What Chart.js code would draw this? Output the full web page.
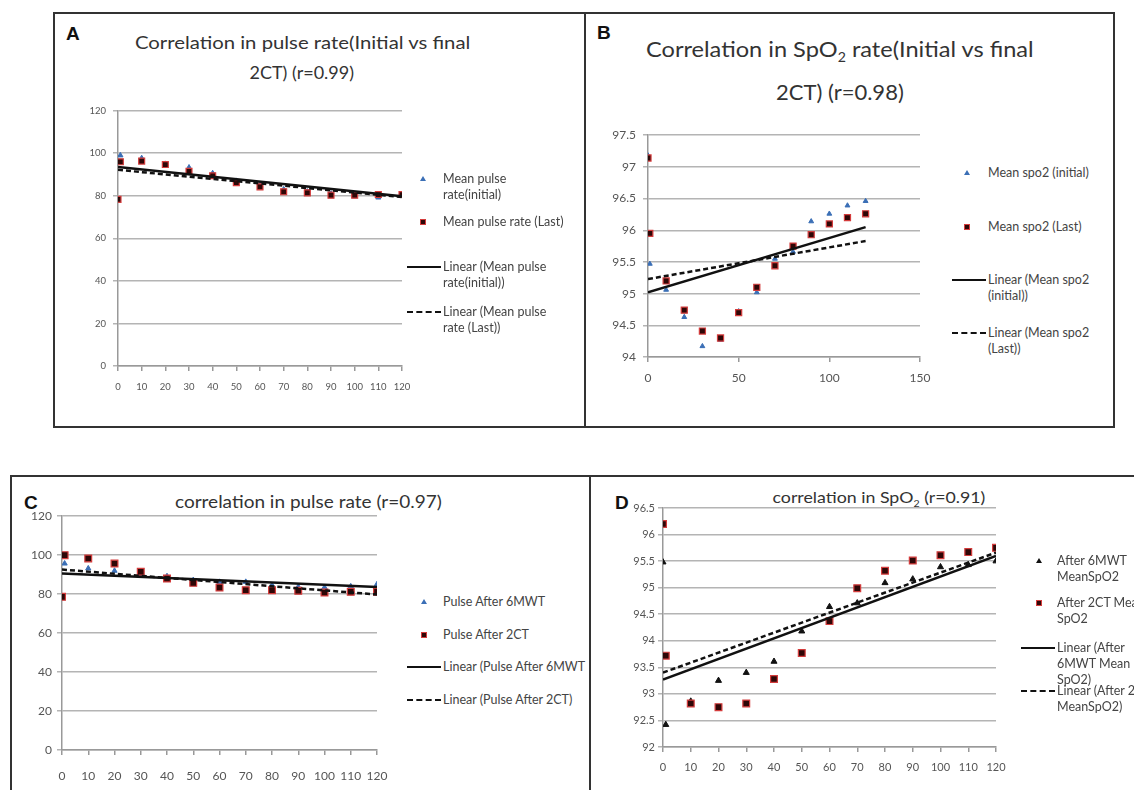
<!DOCTYPE html>
<html>
<head>
<meta charset="utf-8">
<script src="https://cdn.jsdelivr.net/npm/chart.js@4.4.0/dist/chart.umd.min.js"></script>
<style>
body { margin: 0; width: 1134px; height: 790px; background: #fff; position: relative; overflow: hidden; font-family: Lato, "Open Sans", sans-serif; }
.line { position: absolute; background: #333; }
.letter { position: absolute; font: bold 19px "Liberation Sans", Arial, sans-serif; color: #111; }
.title { position: absolute; color: #333; white-space: nowrap; text-align: center; transform-origin: center top; }
.leg { position: absolute; font-size: 12.5px; color: #444; line-height: 16px; white-space: nowrap; }
.mk { position: absolute; }
canvas { position: absolute; }
</style>
</head>
<body>
<script>
// x positions (minutes) shared by all four panels
const minutes = [0, 1, 10, 20, 30, 40, 50, 60, 70, 80, 90, 100, 110, 120];
const trendX = [0, 120];

// A - pulse rate, initial vs final 2CT
const pulseInitialA = [77.8, 99, 97.7, 95, 93.3, 90.6, 87, 85, 83, 82, 81, 80.6, 79.2, 80.2];
const pulseLastA    = [78.3, 96, 96.3, 94.7, 91.5, 89.4, 86.2, 84.2, 81.9, 81.4, 80.3, 80.3, 80.6, 80.6];
const trendInitialA = [93.5, 79.8];
const trendLastA    = [92.2, 79.4];

// B - SpO2, initial vs final 2CT
const spo2InitialB = [97.18, 95.47, 95.06, 94.63, 94.17, 94.27, 94.72, 95.02, 95.55, 95.66, 96.14, 96.26, 96.39, 96.46];
const spo2LastB    = [97.14, 95.95, 95.2, 94.74, 94.41, 94.3, 94.7, 95.1, 95.44, 95.75, 95.93, 96.1, 96.2, 96.26];
const trendInitialB = [95.02, 96.05];
const trendLastB    = [95.23, 95.83];

// C - pulse after 6MWT vs after 2CT
const pulse6mwtC = [79, 95.7, 93.2, 92, 90.3, 89.2, 87.2, 86.3, 86.3, 84.6, 83.8, 83.5, 84, 85.1];
const pulse2ctC  = [78.6, 100, 98.3, 95.7, 91.5, 88, 85.8, 83.4, 82, 82, 81.7, 80.8, 81.2, 81.2];
const trend6mwtC = [90.6, 83.6];
const trend2ctC  = [92.6, 79.8];

// D - SpO2 after 6MWT vs after 2CT
const spo26mwtD = [95.48, 92.42, 92.86, 93.25, 93.4, 93.61, 94.18, 94.64, 94.71, 95.09, 95.16, 95.39, 95.43, 95.5];
const spo22ctD  = [96.2, 93.72, 92.82, 92.75, 92.82, 93.28, 93.77, 94.37, 94.99, 95.32, 95.51, 95.61, 95.67, 95.75];
const trend6mwtD = [93.27, 95.6];
const trend2ctD  = [93.4, 95.66];

function pts(xs, ys) {
    return xs.map((x, i) => ({ x: x, y: ys[i] }));
}

function div(cls, css, html) {
    const el = document.createElement('div');
    el.className = cls;
    Object.assign(el.style, css);
    if (html !== undefined) el.innerHTML = html;
    document.body.appendChild(el);
    return el;
}

function buildDatasets(triVals, sqVals, solid, dashed, triColor, triR, sqR) {
    return [
        { data: pts(trendX, solid), showLine: true, borderColor: '#111', borderWidth: 2.5, pointRadius: 0 },
        { data: pts(trendX, dashed), showLine: true, borderColor: '#111', borderWidth: 2.5, borderDash: [5, 3], pointRadius: 0 },
        { data: pts(minutes, sqVals), pointStyle: 'rect', pointRadius: sqR, backgroundColor: '#2e0707', borderColor: '#d43c3c', borderWidth: 1.2 },
        { data: pts(minutes, triVals), pointStyle: 'triangle', pointRadius: triR, backgroundColor: triColor, borderColor: triColor, borderWidth: 1 }
    ];
}

// draws one panel's plot so that its chart area lands on l/t/r/b
function makePanel(p) {
    const padT = 12, padR = 26;
    const W = p.yW + (p.r - p.l) + padR;
    const H = padT + (p.b - p.t) + p.xH;
    const canvas = document.createElement('canvas');
    canvas.width = W;
    canvas.height = H;
    canvas.style.left = (p.l - p.yW) + 'px';
    canvas.style.top = (p.t - padT) + 'px';
    canvas.style.width = W + 'px';
    canvas.style.height = H + 'px';
    document.body.appendChild(canvas);

    const font = { family: 'Lato, sans-serif', size: p.fontSize };
    new Chart(canvas, {
        type: 'scatter',
        data: { datasets: p.datasets },
        options: {
            responsive: false,
            animation: false,
            devicePixelRatio: 1,
            layout: { padding: { left: 0, top: padT, right: padR, bottom: 0 } },
            plugins: { legend: { display: false }, tooltip: { enabled: false } },
            scales: {
                x: {
                    type: 'linear', min: p.xMin, max: p.xMax,
                    ticks: { stepSize: p.xStep, font: font, color: '#555', padding: p.xPad, maxRotation: 0, autoSkip: false },
                    grid: { drawOnChartArea: false, tickLength: 5, color: '#999', lineWidth: 1.5 },
                    border: { color: '#999', width: 1.5 },
                    afterFit: s => { s.height = p.xH; }
                },
                y: {
                    min: p.yMin, max: p.yMax,
                    ticks: { stepSize: p.yStep, font: font, color: '#555', padding: p.yPad,
                             callback: v => String(+v.toFixed(2)) },
                    grid: { color: '#b4b4b4', lineWidth: 1.5, tickLength: 5 },
                    border: { color: '#999', width: 1.5 },
                    afterFit: s => { s.width = p.yW; }
                }
            }
        }
    });
}

function addTitle(lines, cx, tops, size, width) {
    lines.forEach((txt, i) => {
        const el = div('title', { top: tops[i] + 'px', fontSize: size + 'px', lineHeight: size + 'px' }, txt);
        const w = el.offsetWidth;
        el.style.left = (cx - w / 2) + 'px';
        if (width[i]) el.style.transform = 'scaleX(' + (width[i] / w) + ')';
    });
}

function addLegend(items, mx, tx) {
    items.forEach(it => {
        if (it.kind === 'tri') {
            div('mk', { left: (mx - 3) + 'px', top: (it.y - 3) + 'px', width: 0, height: 0,
                borderLeft: '3px solid transparent', borderRight: '3px solid transparent',
                borderBottom: '5px solid ' + it.color });
        } else if (it.kind === 'sq') {
            div('mk', { left: (mx - 3) + 'px', top: (it.y - 3) + 'px', width: '4px', height: '4px',
                background: '#2e0707', border: '1px solid #d43c3c' });
        } else {
            div('mk', { left: (tx - 36) + 'px', top: (it.y - 1) + 'px', width: '34px', height: 0,
                borderTop: '2.5px ' + (it.kind === 'dash' ? 'dashed' : 'solid') + ' #111' });
        }
        div('leg', { left: tx + 'px', top: (it.y - 8) + 'px' }, it.lines.join('<br>'));
    });
}

// panel frames
div('line', { left: '53px', top: '12px', width: '1062px', height: '2px' });
div('line', { left: '53px', top: '426px', width: '1062px', height: '2px' });
div('line', { left: '53px', top: '12px', width: '2px', height: '416px' });
div('line', { left: '1113px', top: '12px', width: '2px', height: '416px' });
div('line', { left: '584px', top: '12px', width: '2px', height: '416px' });
div('line', { left: '10px', top: '475px', width: '1124px', height: '2px' });
div('line', { left: '10px', top: '475px', width: '2px', height: '315px' });
div('line', { left: '589px', top: '475px', width: '2px', height: '315px' });

div('letter', { left: '66px', top: '23px' }, 'A');
div('letter', { left: '597px', top: '22px' }, 'B');
div('letter', { left: '24px', top: '492px' }, 'C');
div('letter', { left: '615px', top: '492px' }, 'D');

addTitle(['Correlation in pulse rate(Initial vs final', '2CT) (r=0.99)'], 302, [33, 63], 18, [335, 0]);
addTitle(['Correlation in SpO<sub style="font-size:60%">2</sub> rate(Initial vs final', '2CT) (r=0.98)'], 840, [38, 81], 22, [388, 0]);
addTitle(['correlation in pulse rate (r=0.97)'], 308, [493], 17, [267]);
addTitle(['correlation in SpO<sub style="font-size:60%">2</sub> (r=0.91)'], 879, [490], 15, [213]);

makePanel({ l: 118, t: 110, r: 402, b: 366, yW: 40, xH: 30, xMin: 0, xMax: 120, xStep: 10, yMin: 0, yMax: 120, yStep: 20,
    fontSize: 9.5, xPad: 10, yPad: 7,
    datasets: buildDatasets(pulseInitialA, pulseLastA, trendInitialA, trendLastA, '#3b6fb6', 3, 4.2) });
makePanel({ l: 648, t: 133, r: 920, b: 357, yW: 50, xH: 30, xMin: 0, xMax: 150, xStep: 50, yMin: 94, yMax: 97.5, yStep: 0.5,
    fontSize: 12, xPad: 9, yPad: 7,
    datasets: buildDatasets(spo2InitialB, spo2LastB, trendInitialB, trendLastB, '#3b6fb6', 2.8, 4.3) });
makePanel({ l: 62, t: 516, r: 377, b: 750, yW: 45, xH: 38, xMin: 0, xMax: 120, xStep: 10, yMin: 0, yMax: 120, yStep: 20,
    fontSize: 12, xPad: 14, yPad: 5,
    datasets: buildDatasets(pulse6mwtC, pulse2ctC, trend6mwtC, trend2ctC, '#3b6fb6', 3, 4.8) });
makePanel({ l: 663, t: 508, r: 996, b: 747, yW: 45, xH: 32, xMin: 0, xMax: 120, xStep: 10, yMin: 92, yMax: 96.5, yStep: 0.5,
    fontSize: 11, xPad: 9, yPad: 3,
    datasets: buildDatasets(spo26mwtD, spo22ctD, trend6mwtD, trend2ctD, '#111', 3.5, 4.8) });

addLegend([
    { kind: 'tri', color: '#3b6fb6', y: 179, lines: ['Mean pulse', 'rate(initial)'] },
    { kind: 'sq', y: 222, lines: ['Mean pulse rate (Last)'] },
    { kind: 'solid', y: 267, lines: ['Linear (Mean pulse', 'rate(initial))'] },
    { kind: 'dash', y: 312, lines: ['Linear (Mean pulse', 'rate (Last))'] }
], 423, 443);
addLegend([
    { kind: 'tri', color: '#3b6fb6', y: 173, lines: ['Mean spo2 (initial)'] },
    { kind: 'sq', y: 227, lines: ['Mean spo2 (Last)'] },
    { kind: 'solid', y: 280, lines: ['Linear (Mean spo2', '(initial))'] },
    { kind: 'dash', y: 333, lines: ['Linear (Mean spo2', '(Last))'] }
], 967, 988);
addLegend([
    { kind: 'tri', color: '#3b6fb6', y: 602, lines: ['Pulse After 6MWT'] },
    { kind: 'sq', y: 635, lines: ['Pulse After 2CT'] },
    { kind: 'solid', y: 667, lines: ['Linear (Pulse After 6MWT'] },
    { kind: 'dash', y: 700, lines: ['Linear (Pulse After 2CT)'] }
], 424, 443);
addLegend([
    { kind: 'tri', color: '#111', y: 561, lines: ['After 6MWT', 'MeanSpO2'] },
    { kind: 'sq', y: 603, lines: ['After 2CT Mean', 'SpO2'] },
    { kind: 'solid', y: 648, lines: ['Linear (After', '6MWT Mean', 'SpO2)'] },
    { kind: 'dash', y: 691, lines: ['Linear (After 2', 'MeanSpO2)'] }
], 1039, 1057);
</script>
</body>
</html>
